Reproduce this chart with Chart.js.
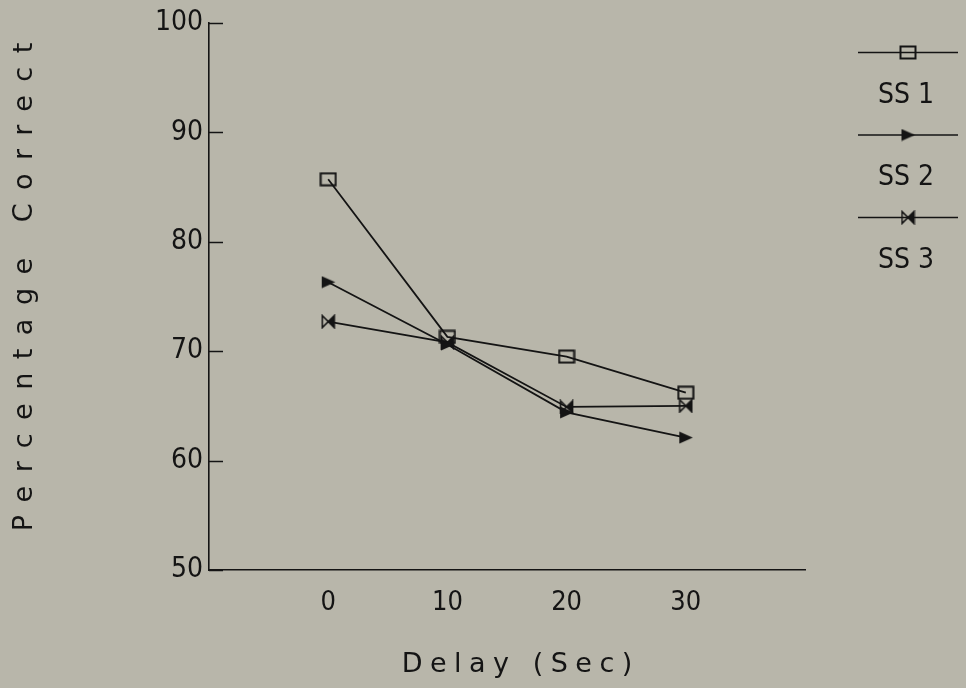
<!DOCTYPE html>
<html>
<head>
<meta charset="utf-8">
<script src="https://cdn.jsdelivr.net/npm/chart.js@4.4.0/dist/chart.umd.min.js"></script>
<style>
  html, body { margin: 0; padding: 0; background: #b8b6aa; }
  #wrap { width: 966px; height: 688px; }
</style>
</head>
<body>
<div id="wrap"><canvas id="grafico" width="966" height="688"></canvas></div>
<script>
// datos
const delays = [0, 10, 20, 30];
const ss1 = [85.7, 71.3, 69.5, 66.2];
const ss2 = [76.3, 70.6, 64.4, 62.1];
const ss3 = [72.7, 70.8, 64.9, 65.0];
const seriesNames = ['SS 1', 'SS 2', 'SS 3'];
const xTicks = [0, 10, 20, 30];
const yTicks = [50, 60, 70, 80, 90, 100];

const tinta = '#141414';
const fuenteNum = '"DejaVu Sans Condensed", "Liberation Sans Narrow", sans-serif';
const fuenteTitulo = '"DejaVu Sans", sans-serif';

// marcadores dibujados a mano
function marcaCuadro() {
    const c = document.createElement('canvas');
    c.width = 18; c.height = 15;
    const g = c.getContext('2d');
    g.strokeStyle = tinta;
    g.lineWidth = 2;
    g.strokeRect(1.5, 1.5, 15, 12);
    return c;
}
function marcaFlecha() {
    const c = document.createElement('canvas');
    c.width = 15; c.height = 13;
    const g = c.getContext('2d');
    g.fillStyle = tinta;
    g.beginPath();
    g.moveTo(1, 0.5);
    g.lineTo(14.5, 6.5);
    g.lineTo(1, 12.5);
    g.closePath();
    g.fill();
    return c;
}
function marcaMonio() {
    const c = document.createElement('canvas');
    c.width = 15; c.height = 15;
    const g = c.getContext('2d');
    g.strokeStyle = tinta;
    g.fillStyle = tinta;
    g.lineWidth = 1.6;
    g.beginPath();
    g.moveTo(1.5, 1.5);
    g.lineTo(7.5, 7.5);
    g.lineTo(1.5, 13.5);
    g.closePath();
    g.stroke();
    g.beginPath();
    g.moveTo(13.5, 1.5);
    g.lineTo(7.5, 7.5);
    g.lineTo(13.5, 13.5);
    g.closePath();
    g.fill();
    g.stroke();
    return c;
}
const marcas = [marcaCuadro(), marcaFlecha(), marcaMonio()];

function puntos(valores) {
    return delays.map((d, i) => ({ x: d, y: valores[i] }));
}

const fondo = {
    id: 'fondo',
    beforeDraw(chart) {
        const ctx = chart.ctx;
        ctx.save();
        ctx.fillStyle = '#b8b6aa';
        ctx.fillRect(0, 0, chart.width, chart.height);
        ctx.restore();
    }
};

// marcas del eje y hacia dentro, titulos de ejes y leyenda a la derecha
const extras = {
    id: 'extras',
    afterDraw(chart) {
        const ctx = chart.ctx;
        const ejeY = chart.scales.y;
        ctx.save();
        ctx.strokeStyle = tinta;
        ctx.lineWidth = 1.5;
        yTicks.forEach(v => {
            const py = Math.round(ejeY.getPixelForValue(v)) + 0.5;
            ctx.beginPath();
            ctx.moveTo(ejeY.right, py);
            ctx.lineTo(ejeY.right + 14, py);
            ctx.stroke();
        });
        ctx.restore();

        ctx.save();
        ctx.fillStyle = tinta;
        ctx.font = '27px ' + fuenteTitulo;
        ctx.textAlign = 'left';
        ctx.textBaseline = 'middle';
        ctx.letterSpacing = '7.5px';

        let txt = 'Delay (Sec)';
        let w = ctx.measureText(txt).width - 7.5;
        ctx.fillText(txt, 517 - w / 2, 665);

        txt = 'Percentage Correct';
        ctx.letterSpacing = '13.5px';
        w = ctx.measureText(txt).width - 13.5;
        ctx.translate(25, 287);
        ctx.rotate(-Math.PI / 2);
        ctx.fillText(txt, -w / 2, 0);
        ctx.restore();

        ctx.save();
        ctx.strokeStyle = tinta;
        ctx.fillStyle = tinta;
        ctx.lineWidth = 1.6;
        ctx.font = '28px ' + fuenteNum;
        ctx.textAlign = 'center';
        ctx.textBaseline = 'middle';
        seriesNames.forEach((nombre, i) => {
            const yl = 52.5 + i * 82.5;
            ctx.beginPath();
            ctx.moveTo(858, yl);
            ctx.lineTo(958, yl);
            ctx.stroke();
            const m = marcas[i];
            ctx.drawImage(m, 908 - m.width / 2, yl - m.height / 2);
            ctx.fillText(nombre, 906, yl + 43);
        });
        ctx.restore();
    }
};

const datasets = [ss1, ss2, ss3].map((serie, i) => ({
    label: seriesNames[i],
    data: puntos(serie),
    borderColor: tinta,
    borderWidth: 1.8,
    pointStyle: marcas[i],
    pointRadius: 7,
    tension: 0,
    fill: false
}));

new Chart(document.getElementById('grafico'), {
    type: 'line',
    data: { datasets: datasets },
    options: {
        responsive: false,
        animation: false,
        layout: { padding: { top: 6, right: 161, left: 0, bottom: 0 } },
        plugins: {
            legend: { display: false },
            tooltip: { enabled: false }
        },
        scales: {
            x: {
                type: 'linear',
                min: -10,
                max: 40,
                afterBuildTicks: (scale) => { scale.ticks = xTicks.map(v => ({ value: v })); },
                afterFit: (scale) => { scale.height = 118; },
                grid: { drawOnChartArea: false, drawTicks: false },
                border: { display: true, color: tinta, width: 1.6 },
                ticks: {
                    padding: 17,
                    color: tinta,
                    font: { family: fuenteNum, size: 27 }
                }
            },
            y: {
                min: 50,
                max: 100,
                afterBuildTicks: (scale) => { scale.ticks = yTicks.map(v => ({ value: v })); },
                afterFit: (scale) => { scale.width = 209; },
                grid: { drawOnChartArea: false, drawTicks: false },
                border: { display: true, color: tinta, width: 1.6 },
                ticks: {
                    padding: 6,
                    color: tinta,
                    font: { family: fuenteNum, size: 28 }
                }
            }
        }
    },
    plugins: [fondo, extras]
});
</script>
</body>
</html>
